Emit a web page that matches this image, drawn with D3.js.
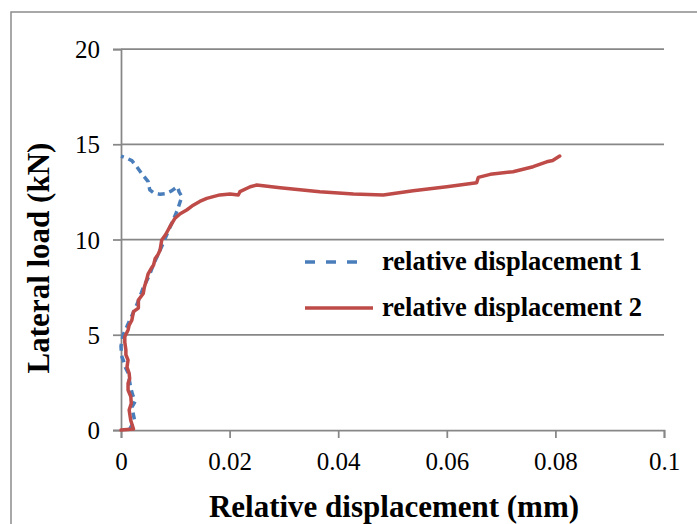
<!DOCTYPE html>
<html>
<head>
<meta charset="utf-8">
<script src="https://cdn.jsdelivr.net/npm/d3@7"></script>
<style>
  html, body { margin: 0; padding: 0; background: #fff; }
  svg { display: block; }
  svg text { font-family: "Liberation Serif", "Times New Roman", serif !important; fill: #000; }
</style>
</head>
<body>
<svg id="chart" width="697" height="524"></svg>
<script>
// ---- data ----
const xTicks = [0, 0.02, 0.04, 0.06, 0.08, 0.1];
const xTickLabels = ["0", "0.02", "0.04", "0.06", "0.08", "0.1"];
const yTicks = [0, 5, 10, 15, 20];
const yTickLabels = ["0", "5", "10", "15", "20"];
const seriesNames = ["relative displacement 1", "relative displacement 2"];

// relative displacement 1 (mm, kN)
const disp1 = [0.0015,0.0025,0.0020,0.0026,0.0022,0.0018,0.0013,0.0008,0.0005,0.0001,0.0000,0.0004,0.0012,0.0020,0.0028,0.0035,0.0040,0.0045,0.0052,0.0060,0.0068,0.0076,0.0082,0.0088,0.0095,0.0104,0.0108,0.0112,0.0107,0.0104,0.0093,0.0082,0.0072,0.0060,0.0053,0.0050,0.0038,0.0029,0.0020,0.0008,0.0000];
const load1 = [0.0,0.5,1.2,1.5,1.8,2.2,3.0,3.3,3.6,3.9,4.4,5.0,5.5,6.0,6.5,7.0,7.4,7.7,8.1,8.7,9.2,9.7,10.1,10.5,10.95,11.55,11.9,12.25,12.5,12.77,12.55,12.4,12.37,12.45,12.6,13.04,13.47,13.82,14.14,14.3,14.38];

// relative displacement 2 (mm, kN)
const disp2 = [0.0000,0.0023,0.0018,0.0015,0.0019,0.0018,0.0013,0.0013,0.0016,0.0015,0.0011,0.0013,0.0009,0.0009,0.0007,0.0007,0.0013,0.0015,0.0020,0.0023,0.0032,0.0032,0.0041,0.0043,0.0047,0.0050,0.0055,0.0060,0.0063,0.0068,0.0072,0.0075,0.0082,0.0090,0.0099,0.0109,0.0121,0.0133,0.0145,0.0158,0.0170,0.0182,0.0201,0.0216,0.0219,0.0238,0.0250,0.0293,0.0366,0.0428,0.0483,0.0538,0.0600,0.0655,0.0658,0.0680,0.0722,0.0759,0.0784,0.0795,0.0808];
const load2 = [0.0,0.05,0.5,1.05,1.4,1.75,2.1,2.45,2.7,2.98,3.3,3.67,3.95,4.2,4.6,4.9,5.25,5.5,5.77,6.21,6.4,6.82,7.17,7.5,7.87,8.2,8.45,8.66,9.0,9.2,9.45,9.97,10.25,10.67,11.1,11.35,11.55,11.8,12.0,12.16,12.25,12.34,12.39,12.34,12.51,12.77,12.86,12.72,12.51,12.39,12.34,12.56,12.77,12.98,13.26,13.42,13.56,13.82,14.08,14.15,14.38];

// ---- drawing ----
const svg = d3.select("#chart");
const gridColor = "#878787";
const blue = "#4a7ebb";
const red = "#be4b48";
const serif = '"Liberation Serif", "Times New Roman", serif';

// outer frame
svg.append("rect").attr("x", 11).attr("y", 12).attr("width", 700).attr("height", 520)
  .attr("fill", "none").attr("stroke", "#8c8c8c").attr("stroke-width", 1.5);

const x = d3.scaleLinear().domain([0, 0.1]).range([121, 664]);
const y = d3.scaleLinear().domain([0, 20]).range([430, 49]);

// gridlines
svg.append("g").selectAll("line").data(yTicks.filter(v => v > 0)).join("line")
  .attr("x1", x(0)).attr("x2", x(0.1))
  .attr("y1", d => y(d)).attr("y2", d => y(d))
  .attr("stroke", gridColor).attr("stroke-width", 1.75);

// y axis
const yAxis = d3.axisLeft(y).tickValues(yTicks).tickSize(8).tickPadding(13)
  .tickFormat((d, i) => yTickLabels[i]);
const gy = svg.append("g").attr("transform", `translate(${x(0)},0)`).call(yAxis)
  .attr("font-family", null).attr("font-size", null);
gy.select(".domain").attr("stroke", gridColor).attr("stroke-width", 1.75);
gy.selectAll(".tick line").attr("stroke", gridColor).attr("stroke-width", 1.75);
gy.selectAll(".tick text").style("font-size", "25px").style("font-family", serif).attr("fill", "#000").attr("dy", "0.34em");

// x axis
const xAxis = d3.axisBottom(x).tickValues(xTicks).tickSize(8).tickPadding(14)
  .tickFormat((d, i) => xTickLabels[i]);
const gx = svg.append("g").attr("transform", `translate(0,${y(0)})`).call(xAxis)
  .attr("font-family", null).attr("font-size", null);
gx.select(".domain").attr("stroke", gridColor).attr("stroke-width", 1.75);
gx.selectAll(".tick line").attr("stroke", gridColor).attr("stroke-width", 1.75);
gx.selectAll(".tick text").style("font-size", "25px").style("font-family", serif).attr("fill", "#000");

// lines
const line = d3.line().x(d => x(d[0])).y(d => y(d[1]));
const pts1 = disp1.map((d, i) => [d, load1[i]]);
const pts2 = disp2.map((d, i) => [d, load2[i]]);

svg.append("path").datum(pts1).attr("d", line)
  .attr("fill", "none").attr("stroke", blue).attr("stroke-width", 3.5)
  .attr("stroke-dasharray", "7,5").attr("stroke-linejoin", "round");
svg.append("path").datum(pts2).attr("d", line)
  .attr("fill", "none").attr("stroke", red).attr("stroke-width", 3.5)
  .attr("stroke-linejoin", "round").attr("stroke-linecap", "round");

// legend
const leg = svg.append("g");
leg.append("line").attr("x1", 305).attr("x2", 361).attr("y1", 262).attr("y2", 262)
  .attr("stroke", blue).attr("stroke-width", 3.5).attr("stroke-dasharray", "10,11");
leg.append("line").attr("x1", 305).attr("x2", 373).attr("y1", 308).attr("y2", 308)
  .attr("stroke", red).attr("stroke-width", 3.5);
leg.append("text").attr("x", 382).attr("y", 262).attr("dy", "0.32em")
  .style("font-size", "26.5px").attr("font-weight", "bold").text(seriesNames[0]);
leg.append("text").attr("x", 382).attr("y", 308).attr("dy", "0.32em")
  .style("font-size", "26.5px").attr("font-weight", "bold").text(seriesNames[1]);

// axis titles
svg.append("text").attr("x", 394).attr("y", 517).attr("text-anchor", "middle")
  .style("font-size", "31px").attr("font-weight", "bold").text("Relative displacement (mm)");
svg.append("text").attr("transform", "translate(49,258) rotate(-90)").attr("text-anchor", "middle")
  .style("font-size", "31px").attr("font-weight", "bold").text("Lateral load (kN)");
</script>
</body>
</html>
